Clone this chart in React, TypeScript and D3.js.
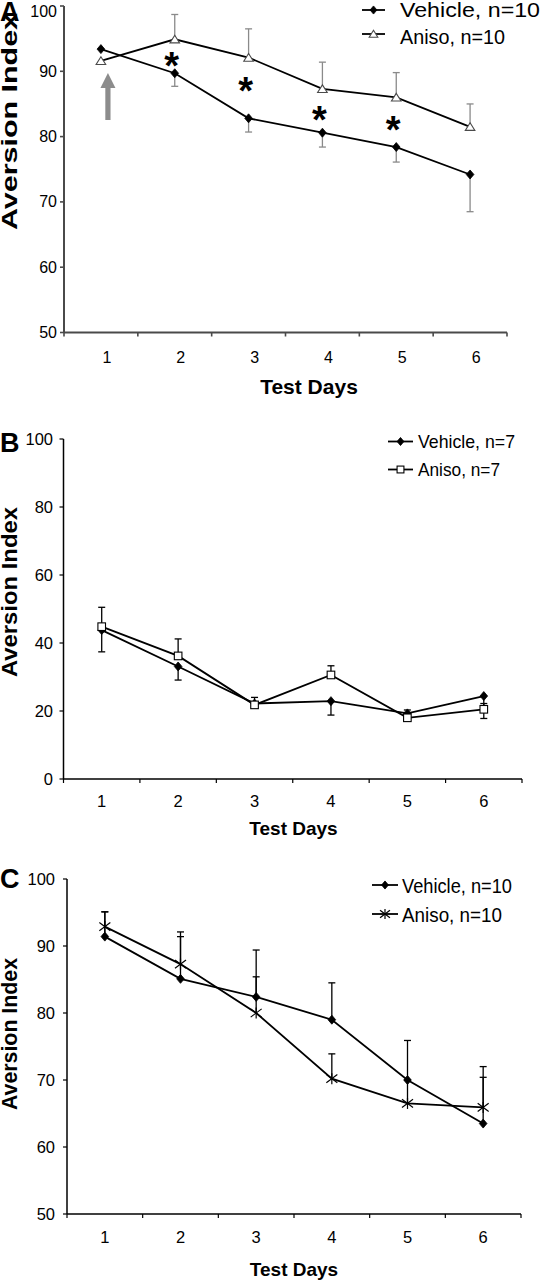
import React from "react";
import * as d3 from "d3";

// ---------- data ----------
const days = ["1", "2", "3", "4", "5", "6"];

// Panel A
const yTicksA = [50, 60, 70, 80, 90, 100];
const vehicleA = [93.4, 89.7, 82.8, 80.6, 78.4, 74.2];
const vehicleAErr = [0, 2.0, 2.1, 2.2, 2.3, 5.7];
const anisoA = [91.6, 94.9, 92.1, 87.3, 86.0, 81.5];
const anisoAErr = [0, 3.8, 4.4, 4.1, 3.8, 3.5];
const sigDaysA = ["2", "3", "4", "5"];
const sigValuesA = [92.0, 88.2, 83.8, 82.3];
const legendA = ["Vehicle, n=10", "Aniso, n=10"];

// Panel B
const yTicksB = [0, 20, 40, 60, 80, 100];
const vehicleB = [43.8, 33.1, 22.2, 22.9, 19.3, 24.4];
const vehicleBErr = [6.4, 4.0, 1.0, 4.1, 1.0, 6.6];
const anisoB = [44.8, 36.2, 21.8, 30.6, 18.0, 20.5];
const anisoBErr = [5.7, 5.0, 2.2, 2.7, 2.3, 1.7];
const legendB = ["Vehicle, n=7", "Aniso, n=7"];

// Panel C
const yTicksC = [50, 60, 70, 80, 90, 100];
const vehicleC = [91.4, 85.1, 82.4, 79.0, 70.0, 63.5];
const vehicleCErr = [3.7, 6.3, 7.0, 5.5, 5.9, 8.5];
const anisoC = [92.9, 87.3, 80.0, 70.2, 66.5, 65.9];
const anisoCErr = [2.2, 4.8, 5.4, 3.7, 3.5, 4.5];
const legendC = ["Vehicle, n=10", "Aniso, n=10"];

const FONT = "'Liberation Sans', Arial, Helvetica, sans-serif";

type MarkerKind = "diamond" | "triangle" | "square" | "star";

function Marker({ kind, x, y, s, stroke }: { kind: MarkerKind; x: number; y: number; s: number; stroke: string }) {
  if (kind === "diamond") {
    const rx = s * 0.85, ry = s;
    return <path d={`M${x},${y - ry}L${x + rx},${y}L${x},${y + ry}L${x - rx},${y}Z`} fill="#000" stroke="#000" strokeWidth={0.8} />;
  }
  if (kind === "triangle") {
    return <path d={`M${x - s},${y + s * 0.75}L${x + s},${y + s * 0.75}L${x},${y - s * 0.85}Z`} fill="#fff" stroke={stroke} strokeWidth={1.1} />;
  }
  if (kind === "square") {
    return <rect x={x - s} y={y - s} width={2 * s} height={2 * s} fill="#fff" stroke="#000" strokeWidth={1.1} />;
  }
  const r = s;
  return (
    <g stroke="#000" strokeWidth={1.2}>
      <line x1={x - r} y1={y - r * 0.75} x2={x + r} y2={y + r * 0.75} />
      <line x1={x - r} y1={y + r * 0.75} x2={x + r} y2={y - r * 0.75} />
      <line x1={x} y1={y - r} x2={x} y2={y + r} />
    </g>
  );
}

interface SeriesDef {
  values: number[];
  err: number[];
  errDir: number; // 1 up, -1 down
  marker: MarkerKind;
  size: number;
}

interface PanelProps {
  letter: string;
  letterY: number;
  x0: number; x1: number;
  yTop: number; yBot: number;
  domain: [number, number];
  ticks: number[];
  axisColor: string; axisWidth: number;
  errColor: string;
  series: SeriesDef[];
  legend: string[];
  legendX: number; legendLineW: number; legendTextX: number;
  legendRows: number[]; legendBase: number[]; legendFont: number; legendLens: number[];
  xLabelOffset: number; xLabelBase: number;
  titleX: number; titleBase: number; titleFont: number;
  yTitleCenter: number; yTitleLen: number;
  tickFont: number; yLabelRight: number; minLabelBase: number;
  children?: (x: (d: string) => number, y: d3.ScaleLinear<number, number>) => React.ReactNode;
}

function Panel(p: PanelProps) {
  const xs = d3.scaleBand<string>().domain(days).range([p.x0, p.x1]).paddingInner(0).paddingOuter(0);
  const cx = (d: string) => (xs(d) as number) + xs.bandwidth() / 2;
  const y = d3.scaleLinear().domain(p.domain).range([p.yBot, p.yTop]);
  const line = d3.line<number>().x((_, i) => cx(days[i])).y((v) => y(v));
  const bounds = days.map((d) => xs(d) as number).concat([p.x1]);
  return (
    <g fontFamily={FONT}>
      <text x={0} y={p.letterY} fontSize={27} fontWeight="bold">{p.letter}</text>
      {/* y axis */}
      <line x1={p.x0} x2={p.x0} y1={p.yTop} y2={p.yBot} stroke={p.axisColor} strokeWidth={p.axisWidth} />
      {p.ticks.map((t) => (
        <g key={t}>
          <line x1={p.x0 - 4} x2={p.x0} y1={y(t)} y2={y(t)} stroke={p.axisColor} strokeWidth={p.axisWidth * 0.8} />
          <text x={p.yLabelRight} y={Math.max(y(t) + 5.5, p.minLabelBase)} textAnchor="end" fontSize={p.tickFont}>{t}</text>
        </g>
      ))}
      {/* x axis */}
      <line x1={p.x0} x2={p.x1} y1={p.yBot} y2={p.yBot} stroke={p.axisColor} strokeWidth={p.axisWidth} />
      {bounds.map((b, i) => (
        <line key={i} x1={b} x2={b} y1={p.yBot} y2={p.yBot + 4} stroke={p.axisColor} strokeWidth={p.axisWidth * 0.8} />
      ))}
      {days.map((d) => (
        <text key={d} x={cx(d) + p.xLabelOffset} y={p.xLabelBase} textAnchor="middle" fontSize={p.tickFont}>{d}</text>
      ))}
      <text x={p.titleX} y={p.titleBase} textAnchor="middle" fontSize={p.titleFont} fontWeight="bold">Test Days</text>
      <text transform={`translate(17,${p.yTitleCenter}) rotate(-90)`} textAnchor="middle" fontSize={22} fontWeight="bold"
        textLength={p.yTitleLen} lengthAdjust="spacingAndGlyphs">Aversion Index</text>
      {/* error bars */}
      {p.series.map((s, si) => (
        <g key={"e" + si} stroke={p.errColor} strokeWidth={1.3}>
          {s.values.map((v, i) => {
            if (!s.err[i]) return null;
            const x = cx(days[i]);
            const y2 = y(v + s.errDir * s.err[i]);
            return (
              <g key={i}>
                <line x1={x} x2={x} y1={y(v)} y2={y2} />
                <line x1={x - 3.5} x2={x + 3.5} y1={y2} y2={y2} />
              </g>
            );
          })}
        </g>
      ))}
      {/* lines */}
      {p.series.map((s, si) => (
        <path key={"l" + si} d={line(s.values) as string} fill="none" stroke="#000" strokeWidth={1.8} />
      ))}
      {p.series.map((s, si) => (
        <g key={"m" + si}>
          {s.values.map((v, i) => (
            <Marker key={i} kind={s.marker} x={cx(days[i])} y={y(v)} s={s.size} stroke={p.axisColor} />
          ))}
        </g>
      ))}
      {/* legend */}
      {p.series.map((s, si) => (
        <g key={"g" + si}>
          <line x1={p.legendX} x2={p.legendX + p.legendLineW} y1={p.legendRows[si]} y2={p.legendRows[si]} stroke="#000" strokeWidth={1.8} />
          <Marker kind={s.marker} x={p.legendX + p.legendLineW / 2} y={p.legendRows[si]} s={s.size * 0.9} stroke={p.axisColor} />
          <text x={p.legendTextX} y={p.legendBase[si]} fontSize={p.legendFont}
            textLength={p.legendLens[si]} lengthAdjust="spacingAndGlyphs">{p.legend[si]}</text>
        </g>
      ))}
      {p.children ? p.children(cx, y) : null}
    </g>
  );
}

export default function App() {
  return (
    <svg width={542} height={1280} style={{ position: "absolute", left: 0, top: 0, background: "#fff" }}>
      <rect width={542} height={1280} fill="#fff" />
      <Panel
        letter="A" letterY={21}
        x0={64} x1={507} yTop={6} yBot={332.5} domain={[50, 100]} ticks={yTicksA}
        axisColor="#4a4a4a" axisWidth={2} errColor="#8a8a8a"
        series={[
          { values: vehicleA, err: vehicleAErr, errDir: -1, marker: "diamond", size: 4.5 },
          { values: anisoA, err: anisoAErr, errDir: 1, marker: "triangle", size: 4.8 },
        ]}
        legend={legendA} legendX={362} legendLineW={23} legendTextX={400}
        legendRows={[10, 34]} legendBase={[17, 43.5]} legendFont={21} legendLens={[140, 105]}
        xLabelOffset={6} xLabelBase={363}
        titleX={309} titleBase={394} titleFont={21}
        yTitleCenter={121.5} yTitleLen={217}
        tickFont={16} yLabelRight={57} minLabelBase={16.5}
      >
        {(cx, y) => (
          <g>
            {sigDaysA.map((d, k) => (
              <text key={d} x={cx(d) - 3} y={y(sigValuesA[k]) + 21} textAnchor="middle" fontSize={38} fontWeight="bold" fontFamily={FONT}>*</text>
            ))}
            {(() => {
              const ax = cx(days[0]) + 7;
              return (
                <g fill="#8c8c8c">
                  <rect x={ax - 2.6} y={87} width={5.2} height={33} />
                  <path d={`M${ax - 7.5},${88}L${ax + 7.5},${88}L${ax},${73}Z`} />
                </g>
              );
            })()}
          </g>
        )}
      </Panel>
      <Panel
        letter="B" letterY={452}
        x0={63.5} x1={522} yTop={439} yBot={779} domain={[0, 100]} ticks={yTicksB}
        axisColor="#000" axisWidth={1.5} errColor="#000"
        series={[
          { values: vehicleB, err: vehicleBErr, errDir: -1, marker: "diamond", size: 4.5 },
          { values: anisoB, err: anisoBErr, errDir: 1, marker: "square", size: 3.8 },
        ]}
        legend={legendB} legendX={388} legendLineW={25} legendTextX={418}
        legendRows={[441.5, 469.5]} legendBase={[448, 476]} legendFont={18.5} legendLens={[97, 82]}
        xLabelOffset={0} xLabelBase={807}
        titleX={293.5} titleBase={835} titleFont={19}
        yTitleCenter={592} yTitleLen={170}
        tickFont={16.5} yLabelRight={53} minLabelBase={0}
      />
      <Panel
        letter="C" letterY={888}
        x0={67} x1={521} yTop={879} yBot={1214} domain={[50, 100]} ticks={yTicksC}
        axisColor="#000" axisWidth={1.5} errColor="#000"
        series={[
          { values: vehicleC, err: vehicleCErr, errDir: 1, marker: "diamond", size: 4.5 },
          { values: anisoC, err: anisoCErr, errDir: 1, marker: "star", size: 5.5 },
        ]}
        legend={legendC} legendX={372} legendLineW={26} legendTextX={402}
        legendRows={[885, 914]} legendBase={[892.5, 921.5]} legendFont={21} legendLens={[110, 100]}
        xLabelOffset={0} xLabelBase={1243}
        titleX={294} titleBase={1276} titleFont={19}
        yTitleCenter={1034} yTitleLen={152}
        tickFont={16.5} yLabelRight={55} minLabelBase={0}
      />
    </svg>
  );
}
